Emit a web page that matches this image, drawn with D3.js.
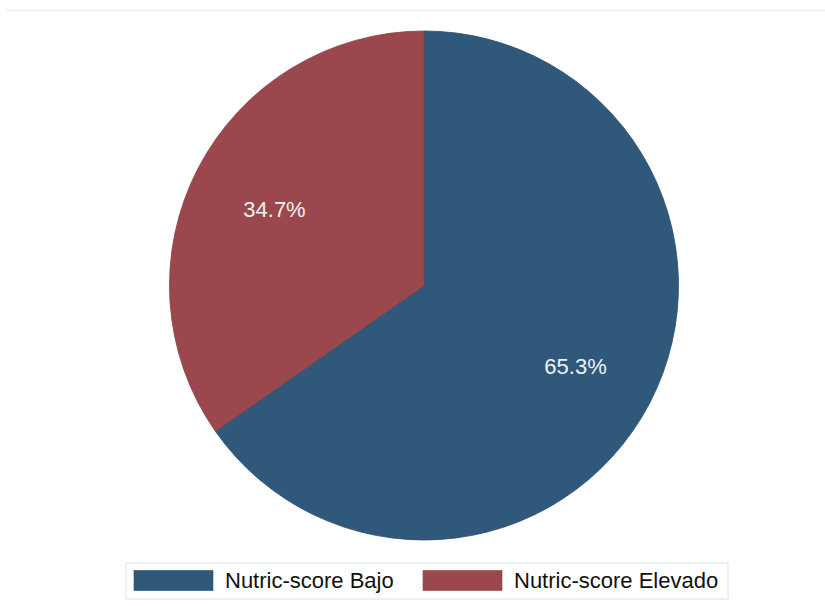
<!DOCTYPE html>
<html><head><meta charset="utf-8">
<script src="https://cdn.jsdelivr.net/npm/d3@7"></script>
<style>body{margin:0;background:#fff;}</style>
</head><body>
<svg id="chart" width="825" height="606"></svg>
<script>
const categories = ["Nutric-score Bajo", "Nutric-score Elevado"];
const values = [65.3, 34.7];
const labels = ["65.3%", "34.7%"];
const colors = ["#30587b", "#9a484d"];

const svg = d3.select("#chart");
svg.append("rect").attr("x",0).attr("y",0).attr("width",825).attr("height",606).attr("fill","#fff");
svg.append("line").attr("x1",6).attr("x2",825).attr("y1",10.5).attr("y2",10.5).attr("stroke","#eaf0ef").attr("stroke-width",1.5);

const cx = 424, cy = 285.5, r = 254.5;
const pie = d3.pie().sort(null).value(d => d)(values);
const arc = d3.arc().innerRadius(0).outerRadius(r);
const labelArc = d3.arc().innerRadius(r*0.667).outerRadius(r*0.667);
const g = svg.append("g").attr("transform", `translate(${cx},${cy})`);
g.selectAll("path").data(pie).join("path")
  .attr("d", arc)
  .attr("fill", (d,i) => colors[i])
  .attr("stroke", (d,i) => d3.color(colors[i]).darker(0.3))
  .attr("stroke-width", 0.8);
g.selectAll("text").data(pie).join("text")
  .attr("transform", d => { const c = labelArc.centroid(d); return `translate(${c[0]+1},${c[1]+2})`; })
  .attr("text-anchor","middle").attr("dy","0.35em")
  .attr("font-family","'Liberation Sans', Arial, sans-serif").attr("font-size",22)
  .attr("fill","#eef2f6")
  .text((d,i) => labels[i]);

// legend
const lg = svg.append("g");
lg.append("rect").attr("x",126).attr("y",563).attr("width",602).attr("height",36)
  .attr("fill","#fff").attr("stroke","#e6eeee").attr("stroke-width",1.5);
const legX = [134, 423];
categories.forEach((c,i) => {
  lg.append("rect").attr("x",legX[i]).attr("y",570.5).attr("width",79).attr("height",20)
    .attr("fill",colors[i]).attr("stroke", d3.color(colors[i]).darker(0.2)).attr("stroke-width",0.6);
  lg.append("text").attr("x",legX[i]+91).attr("y",588)
    .attr("font-family","'Liberation Sans', Arial, sans-serif").attr("font-size",22)
    .attr("fill","#111").text(c);
});
</script>
</body></html>
